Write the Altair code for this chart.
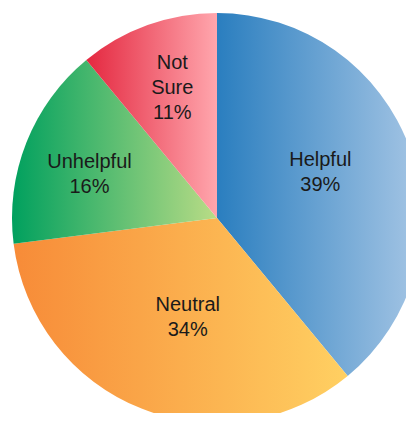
import altair as alt
import pandas as pd
import math

categories = ["Helpful", "Neutral", "Unhelpful", "Not Sure"]
values = [39, 34, 16, 11]

grad_left = ["#2a7ebf", "#f78b38", "#00a05e", "#e42840"]
grad_right = ["#a6c6e5", "#ffd062", "#b9dc86", "#ffa6ad"]

LH = 25  # line height
# label offsets (style): radius, dx, dy per slice
label_style = {
    "Helpful": (113, -3, -7),
    "Neutral": (104, 9, 3),
    "Unhelpful": (135, -2, 6),
    "Not Sure": (138, 2, 0),
}

ends = []
acc = 0
for v in values:
    acc += v
    ends.append(acc)
starts = [e - v for e, v in zip(ends, values)]

labels = [c.replace(" ", "\n") + "\n" + f"{v}%" for c, v in zip(categories, values)]

df = pd.DataFrame({
    "cat": categories,
    "value": values,
    "start": starts,
    "end": ends,
    "mid": [(s + e) / 2 for s, e in zip(starts, ends)],
    "label": labels,
})

theta_scale = alt.Scale(domain=[0, 100], range=[0, 2 * math.pi])
CX, CY, R = 209, 210, 205

base = alt.Chart(df)
layers = []
for i, c in enumerate(categories):
    grad = alt.Gradient(
        gradient="linear",
        stops=[alt.GradientStop(color=grad_left[i], offset=0),
               alt.GradientStop(color=grad_right[i], offset=1)],
        x1=0, x2=1, y1=0, y2=0,
    )
    arc = base.transform_filter(alt.datum.cat == c).mark_arc(
        fill=grad, outerRadius=R, innerRadius=0, strokeWidth=0
    ).encode(
        theta=alt.Theta("start:Q", scale=theta_scale),
        theta2="end:Q",
        x=alt.value(CX),
        y=alt.value(CY),
    )
    layers.append(arc)

for i, c in enumerate(categories):
    r, dx, dy = label_style[c]
    nlines = labels[i].count("\n") + 1
    txt = base.transform_filter(alt.datum.cat == c).mark_text(
        radius=r, dx=dx, dy=dy - (nlines - 1) * LH / 2, lineBreak="\n",
        font="Liberation Sans", fontSize=20, lineHeight=LH, color="#1a1a1a",
        align="center", baseline="middle"
    ).encode(
        theta=alt.Theta("mid:Q", scale=theta_scale),
        text="label:N",
        x=alt.value(CX),
        y=alt.value(CY),
    )
    layers.append(txt)

chart = alt.layer(*layers).properties(
    width=398, height=405, padding=0, autosize="none"
).configure_view(stroke=None)

chart.save("out.html", embed_options={"renderer": "svg", "actions": False})
